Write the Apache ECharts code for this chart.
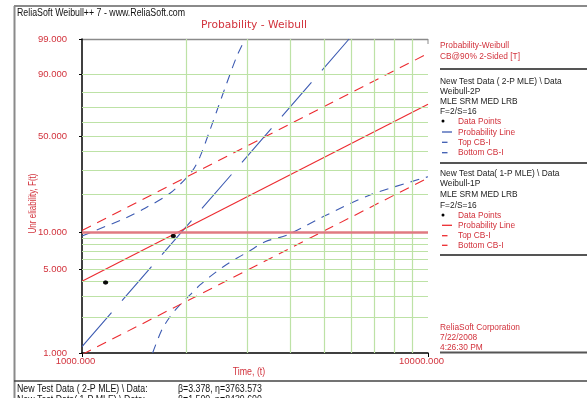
<!DOCTYPE html>
<html>
<head>
<meta charset="utf-8">
<title>Probability - Weibull</title>
<script src="https://cdn.jsdelivr.net/npm/echarts@6/dist/echarts.min.js"></script>
<style>
  html, body { margin: 0; padding: 0; background: #ffffff; }
  #chart { width: 587px; height: 398px; }
</style>
</head>
<body>
<div id="chart"></div>
<script>
// ---- axis ranges and tick values ----
const timeRange = [1000, 10000];          // Time, (t)
const unrelRange = [1, 99];               // Unreliability, F(t) in %
const unrelLabels = [1, 5, 10, 50, 90, 99];
const unrelGrid = [2, 3, 4, 5, 6, 7, 8, 9, 20, 30, 40, 50, 60, 70, 80, 90];
const timeGrid = [2000, 3000, 4000, 5000, 6000, 7000, 8000, 9000];
const refUnrel = 10;

// ---- failure data: [time, unreliability %] ----
const failurePoints = [[1170, 3.9], [1836, 9.4]];

// ---- New Test Data (2-P MLE): beta=3.378, eta=3763.573 ----
const prob2P = [[1000, 1.131], [5915, 99]];
const top2P = [[1000, 9.39], [1331, 13.0], [1521, 15.6], [1796, 20.3], [2075, 29.2], [2193, 37.1],
               [2344, 54.2], [2477, 70.7], [2620, 85.6], [2800, 96.2], [2960, 99]];
const bottom2P = [[1600, 1.0], [1700, 1.56], [1796, 2.02], [1898, 2.45], [2052, 3.07], [2193, 3.72],
                  [2344, 4.36], [2561, 5.27], [2800, 6.18], [3025, 7.0], [3381, 8.44], [3905, 9.54],
                  [4982, 13.4], [6799, 19.7], [10000, 26.9]];

// ---- New Test Data (1-P MLE): beta=1.500, eta=8439.600 ----
const prob1P = [[1000, 4.0], [10000, 72.47]];
const top1P = [[1000, 10.4], [10000, 96.9]];
const bottom1P = [[1000, 0.97], [10000, 26.4]];

// ---- colours / fonts ----
const TEXT_RED = '#d2323c';
const LINE_RED = '#ec2b30';
const BLUE = '#3d5bb2';
const GRID_GREEN = '#bde2a6';
const REF_RED = '#e07a82';
const FONT = '"Liberation Sans", Arial, sans-serif';

// Weibull probability paper: y = ln(-ln(1 - F))
const W = f => Math.log(-Math.log(1 - f / 100));
const Finv = w => 100 * (1 - Math.exp(-Math.exp(w)));
const toPaper = arr => arr.map(([t, f]) => [t, W(f)]);

// plot rectangle
const PL = 82, PT = 39, PW = 346, PH = 314;

function txt(x, y, text, color, opts) {
  opts = opts || {};
  return {
    type: 'text', x: x, y: y, scaleX: opts.scaleX || 0.88, rotation: opts.rotation || 0,
    silent: true,
    style: {
      text: text, fill: color, font: (opts.size || 9.5) + 'px ' + (opts.family || FONT),
      align: opts.align || 'left', verticalAlign: 'middle'
    }
  };
}
function hline(x1, x2, y, color, w) {
  return { type: 'line', silent: true, shape: { x1: x1, y1: y, x2: x2, y2: y },
           style: { stroke: color, lineWidth: w } };
}
function vline(x, y1, y2, color, w) {
  return { type: 'line', silent: true, shape: { x1: x, y1: y1, x2: x, y2: y2 },
           style: { stroke: color, lineWidth: w } };
}

const panel = [];
const PX = 440, SX = 458;
panel.push(txt(PX, 45, 'Probability-Weibull', TEXT_RED));
panel.push(txt(PX, 56, 'CB@90% 2-Sided [T]', TEXT_RED));
panel.push(hline(PX, 587, 69, '#555', 2));
// 2-P block
panel.push(txt(PX, 81, 'New Test Data ( 2-P MLE) \\ Data', '#222'));
panel.push(txt(PX, 91.7, 'Weibull-2P', '#222'));
panel.push(txt(PX, 101.7, 'MLE SRM MED LRB', '#222'));
panel.push(txt(PX, 111, 'F=2/S=16', '#222'));
panel.push({ type: 'circle', silent: true, shape: { cx: 443, cy: 121, r: 1.5 }, style: { fill: '#000' } });
panel.push(txt(SX, 121, 'Data Points', TEXT_RED));
panel.push(hline(442, 452, 132, BLUE, 1.3));
panel.push(txt(SX, 132, 'Probability Line', TEXT_RED));
panel.push(hline(442, 447.5, 142.3, BLUE, 1.3));
panel.push(txt(SX, 142.3, 'Top CB-I', TEXT_RED));
panel.push(hline(442, 447.5, 152.7, BLUE, 1.3));
panel.push(txt(SX, 152.7, 'Bottom CB-I', TEXT_RED));
panel.push(hline(PX, 587, 163, '#555', 2));
// 1-P block
panel.push(txt(PX, 173.3, 'New Test Data( 1-P MLE) \\ Data', '#222'));
panel.push(txt(PX, 183.5, 'Weibull-1P', '#222'));
panel.push(txt(PX, 194.5, 'MLE SRM MED LRB', '#222'));
panel.push(txt(PX, 205, 'F=2/S=16', '#222'));
panel.push({ type: 'circle', silent: true, shape: { cx: 443, cy: 215, r: 1.5 }, style: { fill: '#000' } });
panel.push(txt(SX, 215, 'Data Points', TEXT_RED));
panel.push(hline(442, 452, 225.3, LINE_RED, 1.3));
panel.push(txt(SX, 225.3, 'Probability Line', TEXT_RED));
panel.push(hline(442, 447.5, 235.7, LINE_RED, 1.3));
panel.push(txt(SX, 235.7, 'Top CB-I', TEXT_RED));
panel.push(hline(442, 447.5, 245.3, LINE_RED, 1.3));
panel.push(txt(SX, 245.3, 'Bottom CB-I', TEXT_RED));
panel.push(hline(PX, 587, 255, '#555', 2));
// footer block
panel.push(txt(PX, 327.3, 'ReliaSoft Corporation', TEXT_RED));
panel.push(txt(PX, 337, '7/22/2008', TEXT_RED));
panel.push(txt(PX, 347, '4:26:30 PM', TEXT_RED));
panel.push(hline(PX, 587, 352.5, '#555', 2));

const frame = [
  hline(14, 587, 6, '#8a8a8a', 2),
  vline(14.5, 6, 398, '#8a8a8a', 2),
  hline(14, 587, 381, '#444', 1.5),
  hline(PL, PL + PW, PT + 0.5, '#8a8a8a', 1.5),
  vline(PL + PW, PT, PT + 5, '#8a8a8a', 1),
  txt(17, 13.5, 'ReliaSoft Weibull++ 7 - www.ReliaSoft.com', '#111', { size: 10 }),
  txt(254, 25, 'Probability - Weibull', TEXT_RED, { size: 11, family: '"DejaVu Sans", Verdana, sans-serif', align: 'center', scaleX: 0.97 }),
  txt(33, 203.5, 'Unr eliability, F(t)', TEXT_RED, { size: 10, rotation: Math.PI / 2, align: 'center', scaleX: 0.8 }),
  txt(249, 372, 'Time, (t)', TEXT_RED, { size: 10, align: 'center', scaleX: 0.88 }),
  txt(17, 389.5, 'New Test Data ( 2-P MLE) \\ Data:', '#111', { size: 10 }),
  txt(178, 389.5, '\u03b2=3.378, \u03b7=3763.573', '#111', { size: 10 }),
  txt(17, 400, 'New Test Data( 1-P MLE) \\ Data:', '#111', { size: 10 }),
  txt(178, 400, '\u03b2=1.500, \u03b7=8439.600', '#111', { size: 10 })
];

const option = {
  animation: false,
  backgroundColor: '#ffffff',
  grid: { left: PL, top: PT, width: PW, height: PH, show: false },
  xAxis: {
    type: 'log', logBase: 10, min: timeRange[0], max: timeRange[1],
    axisLine: { onZero: false, lineStyle: { color: '#000', width: 1.5 } },
    axisTick: { show: true, length: 4, lineStyle: { color: '#000' } },
    minorTick: { show: false },
    splitLine: { show: false },
    axisLabel: {
      color: TEXT_RED, fontSize: 9.5, fontFamily: FONT, margin: 3,
      padding: [0, 13, 0, 0],
      formatter: v => Math.round(v).toFixed(3)
    }
  },
  yAxis: {
    type: 'value', min: W(unrelRange[0]), max: W(unrelRange[1]),
    axisLine: { show: true, onZero: false, lineStyle: { color: '#000', width: 1.5 } },
    axisTick: { show: true, length: 3, customValues: unrelLabels.map(W), lineStyle: { color: '#000' } },
    splitLine: { show: false },
    axisLabel: {
      customValues: unrelLabels.map(W), color: TEXT_RED, fontSize: 9.5, fontFamily: FONT, margin: 15,
      formatter: v => Finv(v).toFixed(3)
    }
  },
  series: [
    { // probability paper grid
      type: 'line', z: 1, silent: true, symbol: 'none', data: [[timeRange[0], W(unrelRange[0])]],
      lineStyle: { width: 0 },
      markLine: {
        silent: true, symbol: 'none', label: { show: false }, animation: false,
        lineStyle: { color: GRID_GREEN, width: 1.2, type: 'solid' },
        data: timeGrid.map(v => ({ xAxis: v })).concat(unrelGrid.map(v => ({ yAxis: W(v) })))
      }
    },
    { // 10% reference line
      type: 'line', z: 2, silent: true, symbol: 'none', data: [[timeRange[0], W(unrelRange[0])]],
      lineStyle: { width: 0 },
      markLine: {
        silent: true, symbol: 'none', label: { show: false }, animation: false,
        lineStyle: { color: REF_RED, width: 2.5, type: 'solid' },
        data: [{ yAxis: W(refUnrel) }]
      }
    },
    { name: '2P Probability Line', type: 'line', z: 3, symbol: 'none', data: toPaper(prob2P),
      lineStyle: { color: BLUE, width: 1.1, type: [45, 16] } },
    { name: '2P Top CB-I', type: 'line', z: 3, symbol: 'none', smooth: 0.3, data: toPaper(top2P),
      lineStyle: { color: BLUE, width: 1.1, type: [9, 7] } },
    { name: '2P Bottom CB-I', type: 'line', z: 3, symbol: 'none', smooth: 0.3, data: toPaper(bottom2P),
      lineStyle: { color: BLUE, width: 1.1, type: [9, 7] } },
    { name: '1P Probability Line', type: 'line', z: 4, symbol: 'none', data: toPaper(prob1P),
      lineStyle: { color: LINE_RED, width: 1.1, type: 'solid' } },
    { name: '1P Top CB-I', type: 'line', z: 4, symbol: 'none', data: toPaper(top1P),
      lineStyle: { color: LINE_RED, width: 1.1, type: [10, 7] } },
    { name: '1P Bottom CB-I', type: 'line', z: 4, symbol: 'none', data: toPaper(bottom1P),
      lineStyle: { color: LINE_RED, width: 1.1, type: [10, 7] } },
    { name: '2P Data Points', type: 'scatter', z: 5, symbol: 'circle', symbolSize: [5, 4],
      data: toPaper(failurePoints), itemStyle: { color: '#000' } },
    { name: '1P Data Points', type: 'scatter', z: 5, symbol: 'circle', symbolSize: [5, 4],
      data: toPaper(failurePoints), itemStyle: { color: '#000' } }
  ],
  graphic: { elements: frame.concat(panel) }
};

const chart = echarts.init(document.getElementById('chart'), null, { renderer: 'canvas' });
chart.setOption(option);
</script>
</body>
</html>
